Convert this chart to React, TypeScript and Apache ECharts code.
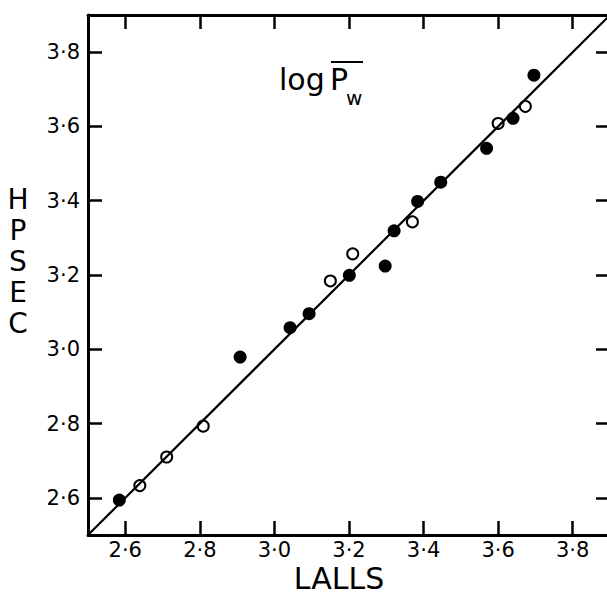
import React, { useEffect, useRef } from "react";
import * as echarts from "echarts";

// Tick values (both axes)
const xTicks = [2.6, 2.8, 3.0, 3.2, 3.4, 3.6, 3.8];
const yTicks = [2.6, 2.8, 3.0, 3.2, 3.4, 3.6, 3.8];
const axisMin = 2.5;
const axisMax = 3.9;

// Filled circles
const filledLALLS = [2.584, 2.908, 3.042, 3.093, 3.201, 3.297, 3.321, 3.384, 3.446, 3.569, 3.640, 3.696];
const filledHPSEC = [2.594, 2.979, 3.058, 3.096, 3.199, 3.224, 3.319, 3.398, 3.450, 3.541, 3.622, 3.738];

// Open circles
const openLALLS = [2.639, 2.711, 2.809, 3.150, 3.210, 3.370, 3.600, 3.673];
const openHPSEC = [2.633, 2.710, 2.793, 3.184, 3.257, 3.343, 3.608, 3.654];

// Line of equality
const lineX = [2.5, 3.9];
const lineY = [2.5, 3.9];

const FONT = "'DejaVu Sans', 'Liberation Sans', sans-serif";
const fmt = (v: number) => v.toFixed(1).replace(".", "\u00b7");

export default function App() {
  const ref = useRef<HTMLDivElement>(null);
  useEffect(() => {
    if (!ref.current) return;
    const chart = echarts.init(ref.current, undefined, { renderer: "svg" });
    const axisLine = { show: true, onZero: false, lineStyle: { color: "#000", width: 3 } };
    const tick = (vals: number[]) => ({
      show: true,
      inside: true,
      length: 14,
      customValues: vals,
      lineStyle: { color: "#000", width: 2.5 },
    });
    chart.setOption({
      animation: false,
      backgroundColor: "#fff",
      grid: {
        left: 88,
        top: 15,
        width: 522,
        height: 520,
        containLabel: false,
        outerBoundsMode: "none",
      },
      xAxis: [
        {
          type: "value",
          position: "bottom",
          min: axisMin,
          max: axisMax,
          axisLine,
          axisTick: tick(xTicks),
          axisLabel: {
            customValues: xTicks,
            formatter: fmt,
            color: "#000",
            fontSize: 21,
            fontFamily: FONT,
            margin: 4,
          },
          splitLine: { show: false },
        },
        {
          type: "value",
          position: "top",
          min: axisMin,
          max: axisMax,
          axisLine,
          axisTick: tick(xTicks),
          axisLabel: { show: false },
          splitLine: { show: false },
        },
      ],
      yAxis: [
        {
          type: "value",
          position: "left",
          min: axisMin,
          max: axisMax,
          axisLine,
          axisTick: tick(yTicks),
          axisLabel: {
            customValues: yTicks,
            formatter: fmt,
            color: "#000",
            fontSize: 21,
            fontFamily: FONT,
            margin: 8,
          },
          splitLine: { show: false },
        },
        {
          type: "value",
          position: "right",
          min: axisMin,
          max: axisMax,
          axisLine: { show: false },
          axisTick: tick(yTicks),
          axisLabel: { show: false },
          splitLine: { show: false },
        },
      ],
      series: [
        {
          type: "line",
          data: lineX.map((x, i) => [x, lineY[i]]),
          symbol: "none",
          lineStyle: { color: "#000", width: 2.2 },
          silent: true,
        },
        {
          type: "scatter",
          data: filledLALLS.map((x, i) => [x, filledHPSEC[i]]),
          symbol: "circle",
          symbolSize: 13,
          itemStyle: { color: "#000", opacity: 1 },
        },
        {
          type: "scatter",
          data: openLALLS.map((x, i) => [x, openHPSEC[i]]),
          symbol: "circle",
          symbolSize: 11,
          itemStyle: { color: "#fff", borderColor: "#000", borderWidth: 2, opacity: 1 },
        },
      ],
      graphic: [
        {
          type: "text",
          x: 339,
          y: 578,
          style: {
            text: "LALLS",
            font: `30px ${FONT}`,
            fill: "#000",
            align: "center",
            verticalAlign: "middle",
          },
        },
        {
          type: "text",
          x: 18,
          y: 184,
          style: {
            text: "H\nP\nS\nE\nC",
            font: `28px ${FONT}`,
            lineHeight: 31,
            fill: "#000",
            align: "center",
            verticalAlign: "top",
          },
        },
        {
          type: "text",
          x: 279,
          y: 64,
          style: { text: "log", font: `30px ${FONT}`, fill: "#000", verticalAlign: "top" },
        },
        {
          type: "text",
          x: 330,
          y: 64,
          style: { text: "P", font: `30px ${FONT}`, fill: "#000", verticalAlign: "top" },
        },
        {
          type: "text",
          x: 346,
          y: 88,
          style: { text: "w", font: `20px ${FONT}`, fill: "#000", verticalAlign: "top" },
        },
        {
          type: "line",
          shape: { x1: 331, y1: 62, x2: 363, y2: 62 },
          style: { stroke: "#000", lineWidth: 2 },
        },
      ],
    });
    return () => chart.dispose();
  }, []);
  return (
    <div
      ref={ref}
      style={{ position: "absolute", left: 0, top: 0, width: 607, height: 595, background: "#fff" }}
    />
  );
}
